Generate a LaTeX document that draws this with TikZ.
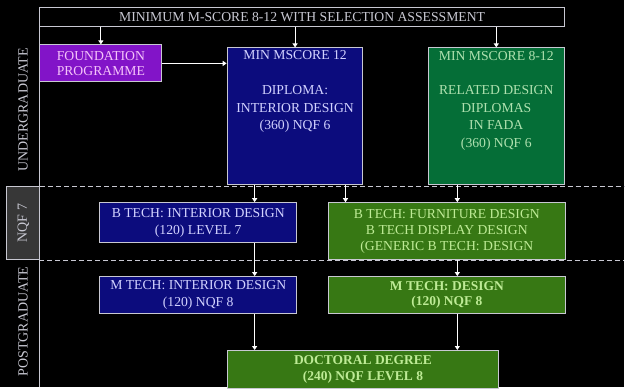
\documentclass[tikz,border=0pt]{standalone}
\usepackage{fontspec}
\setmainfont{Liberation Serif}
\usetikzlibrary{arrows.meta}

\definecolor{edge}{RGB}{200,200,210}
\definecolor{navyfill}{RGB}{12,12,125}
\definecolor{navytext}{RGB}{210,210,255}
\definecolor{plumfill}{RGB}{130,20,200}
\definecolor{plumtext}{RGB}{245,195,250}
\definecolor{pinefill}{RGB}{5,110,55}
\definecolor{pinetext}{RGB}{175,225,175}
\definecolor{leaffill}{RGB}{55,120,20}
\definecolor{leaftext}{RGB}{190,235,150}
\definecolor{greyfill}{RGB}{55,55,55}

\newcommand{\tallbox}[1]{\parbox[c][131pt][t]{130pt}{\centering #1}}

\begin{document}
\begin{tikzpicture}[x=1pt,y=-1pt,
    every node/.style={font=\fontsize{13.7}{17.5}\selectfont, align=center, inner sep=3pt},
    box/.style={draw=edge, line width=1pt, rectangle},
    navybox/.style={box, fill=navyfill, text=navytext},
    plumbox/.style={box, fill=plumfill, text=plumtext},
    pinebox/.style={box, fill=pinefill, text=pinetext},
    leafbox/.style={box, fill=leaffill, text=leaftext},
    sidebox/.style={box, fill=greyfill, text=edge},
    sidetext/.style={text=edge, font=\fontsize{14}{17}\selectfont},
    arr/.style={draw=white, line width=1pt, -{Triangle[width=5pt,length=4pt]}},
    sep/.style={draw=edge, line width=0.8pt, dash pattern=on 5pt off 3pt}]

    \fill[black] (0,0) rectangle (625,388);

    % side labels
    \node[sidebox, sidetext, rotate=90, minimum width=73, minimum height=33] (nqf) at (23.5,223.5) {NQF 7};
    \node[sidetext, rotate=90] (ug) at (23,110) {UNDERGRADUATE};
    \node[sidetext, rotate=90] (pg) at (23,322) {POSTGRADUATE};

    \draw[sep] (nqf.north west) ++(33,0) -- ++(585,0);
    \draw[sep] (nqf.south east) -- ++(585,0);

    % boxes
    \node[box, fill=black, text=edge, minimum width=525, minimum height=19, inner sep=0pt] (top) at (302.5,17.5)
        {MINIMUM M-SCORE 8-12 WITH SELECTION ASSESSMENT};
    \draw[draw=edge, line width=1pt] (top.north west) -- (top.north west |- 0,388);

    \node[plumbox, minimum width=122, minimum height=37] (found) at (101,63.5) {FOUNDATION\\[-2pt] PROGRAMME};
    \node[navybox, inner sep=3pt] (dipl) at (295.5,116.5)
        {\tallbox{MIN MSCORE 12\\[17.5pt] DIPLOMA:\\ INTERIOR DESIGN\\ (360) NQF 6}};
    \node[pinebox, inner sep=3pt] (rel) at (497,116.5)
        {\tallbox{MIN MSCORE 8-12\\[17.5pt] RELATED DESIGN\\ DIPLOMAS\\ IN FADA\\ (360) NQF 6}};

    \node[navybox, minimum width=197, minimum height=40] (btint) at (198.5,223) {B TECH: INTERIOR DESIGN\\ (120) LEVEL 7};
    \node[leafbox, minimum width=237, minimum height=57, font=\fontsize{13.7}{16}\selectfont] (btdes) at (447.5,231.5)
        {B TECH: FURNITURE DESIGN\\ B TECH DISPLAY DESIGN\\ (GENERIC B TECH: DESIGN};
    \node[navybox, minimum width=197, minimum height=37] (mtint) at (198.5,295.5) {M TECH: INTERIOR DESIGN\\[-1pt] (120) NQF 8};
    \node[leafbox, minimum width=237, minimum height=37, font=\bfseries\fontsize{13.5}{16.5}\selectfont] (mtdes) at (447.5,295.5)
        {M TECH: DESIGN\\[-1pt] (120) NQF 8};
    \node[leafbox, minimum width=271, minimum height=38, font=\bfseries\fontsize{13.5}{16.5}\selectfont] (doc) at (363.5,370)
        {DOCTORAL DEGREE\\[-1pt] (240) NQF LEVEL 8};

    % arrows
    \coordinate (c1) at (255,0);
    \coordinate (c2) at (458,0);
    \coordinate (c3) at (346,0);
    \draw[arr] (top.south -| found.north) -- (found.north);
    \draw[arr] (top.south -| dipl.north) -- (dipl.north);
    \draw[arr] (top.south -| rel.north) -- (rel.north);
    \draw[arr] (found.east) -- (found.east -| dipl.west);
    \draw[arr] (c1 |- dipl.south) -- (c1 |- btint.north);
    \draw[arr] (c3 |- dipl.south) -- (c3 |- btdes.north);
    \draw[arr] (c2 |- rel.south) -- (c2 |- btdes.north);
    \draw[arr] (c1 |- btint.south) -- (c1 |- mtint.north);
    \draw[arr] (c2 |- btdes.south) -- (c2 |- mtdes.north);
    \draw[arr] (c1 |- mtint.south) -- (c1 |- doc.north);
    \draw[arr] (c2 |- mtdes.south) -- (c2 |- doc.north);

    \useasboundingbox (0,0) rectangle (625,388);
\end{tikzpicture}
\end{document}
